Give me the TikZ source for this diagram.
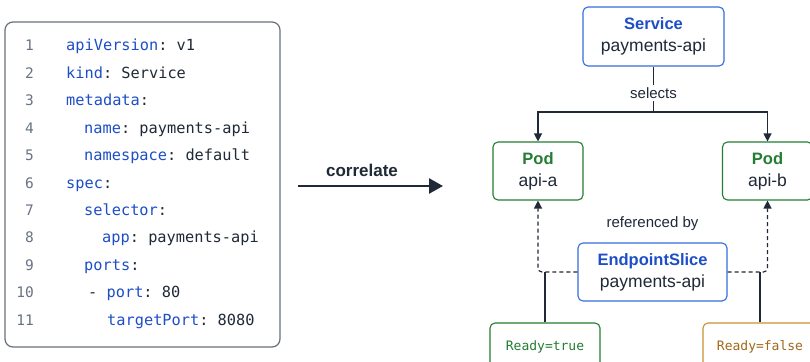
\documentclass[tikz,border=0pt]{standalone}
\usepackage{fontspec}
\setmainfont{Liberation Sans}
\setmonofont{DejaVu Sans Mono}
\usetikzlibrary{arrows.meta}

\definecolor{ink}{RGB}{31,41,55}
\definecolor{keyblue}{RGB}{29,78,200}
\definecolor{boxblue}{RGB}{50,110,222}
\definecolor{podgreen}{RGB}{35,125,50}
\definecolor{warnorange}{RGB}{200,145,50}
\definecolor{warntext}{RGB}{160,105,25}
\definecolor{lineno}{RGB}{105,115,130}
\definecolor{frame}{RGB}{105,112,125}

% yaml key
\newcommand{\yk}[1]{\textcolor{keyblue}{#1}}
% bold heading inside a resource box
\newcommand{\kindhead}[2]{\textcolor{#1}{\bfseries\fontsize{16.5}{22}\selectfont #2}}

\begin{document}
\begin{tikzpicture}[
        x=1pt, y=-1pt,
        res/.style={rectangle, rounded corners=5pt, draw, line width=1.1pt, fill=white, align=center, text=ink, font=\fontsize{17.5}{22}\selectfont, inner sep=0pt},
        svcbox/.style={res, draw=boxblue},
        podbox/.style={res, draw=podgreen, minimum width=90pt, minimum height=58pt},
        statebox/.style={rectangle, rounded corners=5pt, draw, line width=1.1pt, fill=white, minimum height=48pt, font=\ttfamily\fontsize{13}{16}\selectfont},
        lineno/.style={anchor=base east, inner sep=0pt, text=lineno, font=\ttfamily\fontsize{14.5}{16}\selectfont},
        code/.style={anchor=base west, inner sep=0pt, text=ink, font=\ttfamily\fontsize{15.3}{18}\selectfont},
        lbl/.style={text=ink, font=\fontsize{15}{18}\selectfont, fill=white, inner sep=2pt},
        arrow/.style={-{Triangle[width=8pt,length=8pt]}, line width=1.2pt, draw=ink},
        dasharrow/.style={arrow, dash pattern=on 4pt off 3pt, rounded corners=4pt},
        link/.style={line width=1.2pt, draw=ink}
    ]
    \clip (0,0) rectangle (810,361);
    \fill[white] (0,0) rectangle (810,361);

    % Service manifest
    \draw[frame, line width=1.2pt, rounded corners=8pt] (5,22) rectangle (280,347);
    \foreach \n in {1,...,11}
        \node[lineno] (ln\n) at (34, {23.6+27.4*\n}) {\n};
    \node[code] (l1) at (66,51) {\yk{apiVersion}: v1};
    \node[code] (l2) at (66,78.4) {\yk{kind}: Service};
    \node[code] (l3) at (66,105.8) {\yk{metadata}:};
    \node[code] (l4) at (84,133.2) {\yk{name}: payments-api};
    \node[code] (l5) at (84,160.6) {\yk{namespace}: default};
    \node[code] (l6) at (66,188) {\yk{spec}:};
    \node[code] (l7) at (84,215.4) {\yk{selector}:};
    \node[code] (l8) at (102,242.8) {\yk{app}: payments-api};
    \node[code] (l9) at (84,270.2) {\yk{ports}:};
    \node[code] (l10) at (88,297.6) {- \yk{port}: 80};
    \node[code] (l11) at (107,325) {\yk{targetPort}: 8080};

    % Correlate arrow
    \coordinate (corr-from) at (298,186);
    \coordinate (corr-to) at (443,186);
    \draw[-{Triangle[width=15pt,length=14pt]}, line width=2.6pt, ink] (corr-from) -- (corr-to);
    \node[text=ink, font=\bfseries\fontsize{17}{20}\selectfont] (corr) at (362,170) {correlate};

    % Objects
    \node[svcbox, minimum width=141pt, minimum height=59pt] (svc) at (653.5,36.5) {\kindhead{keyblue}{Service}\\payments-api};
    \node[podbox] (poda) at (538,171) {\kindhead{podgreen}{Pod}\\api-a};
    \node[podbox] (podb) at (767.5,171) {\kindhead{podgreen}{Pod}\\api-b};
    \node[svcbox, minimum width=149pt, minimum height=58pt] (eps) at (652.5,272) {\kindhead{keyblue}{EndpointSlice}\\payments-api};
    \node[statebox, draw=podgreen, text=podgreen, minimum width=110pt] (rtrue) at (545,347) {Ready=true};
    \node[statebox, draw=warnorange, text=warntext, minimum width=114pt] (rfalse) at (760,347) {Ready=false};

    % Selector
    \coordinate (fork) at (653.5,112);
    \draw[link] (svc.south) -- (fork);
    \draw[arrow] (fork) -| (poda.north);
    \draw[arrow] (fork) -| (podb.north);
    \node[lbl] (sel) at (653.5,93) {selects};

    % Endpoints
    \draw[dasharrow] (eps.west) -| (poda.south);
    \draw[dasharrow] (eps.east) -| (podb.south);
    \draw[link] (rtrue.north) -- (rtrue.north |- eps.west);
    \draw[link] (rfalse.north) -- (rfalse.north |- eps.east);
    \node[lbl] (refby) at (652.5,224) {referenced by};

\end{tikzpicture}
\end{document}
